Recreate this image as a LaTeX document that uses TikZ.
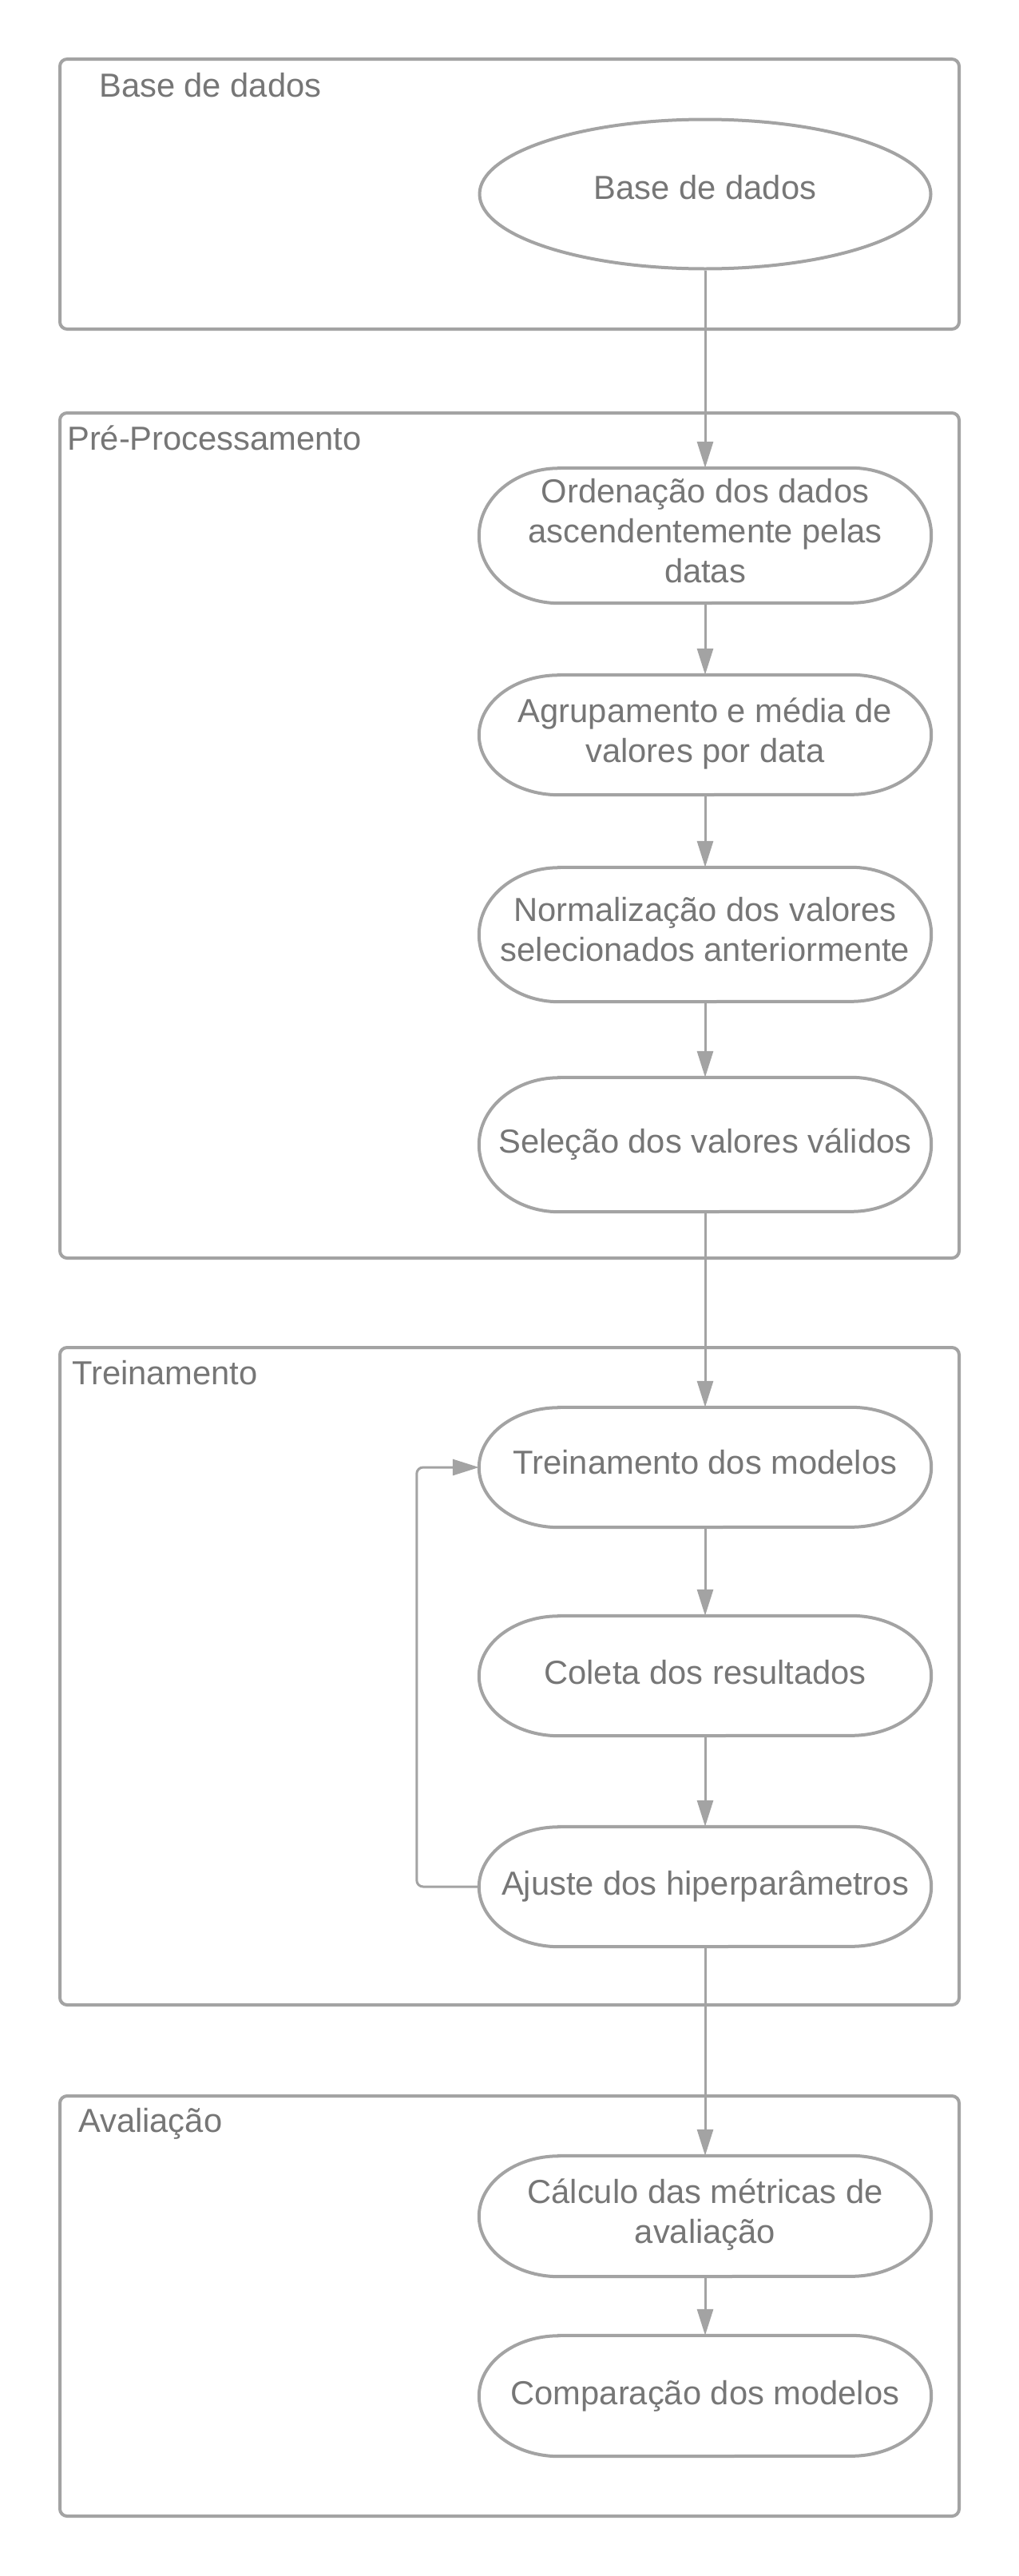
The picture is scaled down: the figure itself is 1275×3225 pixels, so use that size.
\documentclass[tikz,border=0pt]{standalone}
\usepackage{fontspec}
\setmainfont{Liberation Sans}
\usetikzlibrary{arrows.meta,shapes.geometric}
\definecolor{linec}{RGB}{163,163,163}
\definecolor{textc}{RGB}{118,118,118}
\tikzset{
  boxline/.style={draw=linec,line width=4pt,rounded corners=9pt},
  title/.style={anchor=base west,inner sep=0pt,text=textc,font=\fontsize{41.7}{50}\selectfont},
  stadframe/.style={shape=rectangle,draw=none,minimum width=566pt,inner sep=0pt},
  stadtext/.style={shape=rectangle,draw=none,inner sep=0pt,align=center,text=textc,font=\fontsize{41.7}{50}\selectfont},
  stadline/.style={draw=linec,line width=4pt},
  ellnode/.style={shape=ellipse,draw=linec,line width=4pt,minimum width=565pt,minimum height=187pt,inner sep=0pt},
  conn/.style={draw=linec,line width=3pt,-{Triangle[length=33pt,width=20pt]}},
}
% name, center y, height, text, text raise (pt)
\newcommand\stadnode[5]{%
  \node[stadframe,minimum height=#3pt] (#1) at (883,#2) {};
  \node[stadtext,yshift=#5pt] (#1-t) at (#1.center) {#4};
  \draw[stadline] ([xshift=100pt]#1.north west) -- ([xshift=-100pt]#1.north east)
     arc[start angle=90,end angle=-90,x radius=100pt,y radius=#3pt/2]
     -- ([xshift=100pt]#1.south west)
     arc[start angle=270,end angle=90,x radius=100pt,y radius=#3pt/2] -- cycle;
}
\begin{document}
\begin{tikzpicture}[x=1pt,y=-1pt]
\useasboundingbox[fill=white] (0,0) rectangle (1275,3225);
% group boxes
\draw[boxline] (75,74) rectangle (1201,412);
\draw[boxline] (75,517) rectangle (1201,1575);
\draw[boxline] (75,1687) rectangle (1201,2510);
\draw[boxline] (75,2624) rectangle (1201,3150);
% titles
\node[title] (t1) at (124,121) {Base de dados};
\node[title] (t2) at (84,563) {Pré-Processamento};
\node[title] (t3) at (90,1733) {Treinamento};
\node[title] (t4) at (98,2669) {Avaliação};
% nodes
\node[ellnode] (base) at (883,243) {};
\node[stadtext,yshift=8pt] (base-t) at (base.center) {Base de dados};
\stadnode{ord}{670.5}{169}{Ordenação dos dados\\ascendentemente pelas\\datas}{6}
\stadnode{agr}{920}{150}{Agrupamento e média de\\valores por data}{2}
\stadnode{nor}{1170}{168}{Normalização dos valores\\selecionados anteriormente}{6}
\stadnode{sel}{1433}{168}{Seleção dos valores válidos}{0}
\stadnode{tre}{1837}{150}{Treinamento dos modelos}{6}
\stadnode{col}{2098}{150}{Coleta dos resultados}{4}
\stadnode{aju}{2362}{150}{Ajuste dos hiperparâmetros}{0}
\stadnode{cal}{2774.5}{151}{Cálculo das métricas de\\avaliação}{2}
\stadnode{com}{2999.5}{151}{Comparação dos modelos}{0}
% connectors
\draw[conn] (base.south) -- (ord.north);
\draw[conn] (ord.south) -- (agr.north);
\draw[conn] (agr.south) -- (nor.north);
\draw[conn] (nor.south) -- (sel.north);
\draw[conn] (sel.south) -- (tre.north);
\draw[conn] (tre.south) -- (col.north);
\draw[conn] (col.south) -- (aju.north);
\draw[conn,rounded corners=8pt] (aju.west) -- ++(-78,0) |- (tre.west);
\draw[conn] (aju.south) -- (cal.north);
\draw[conn] (cal.south) -- (com.north);
\end{tikzpicture}
\end{document}
